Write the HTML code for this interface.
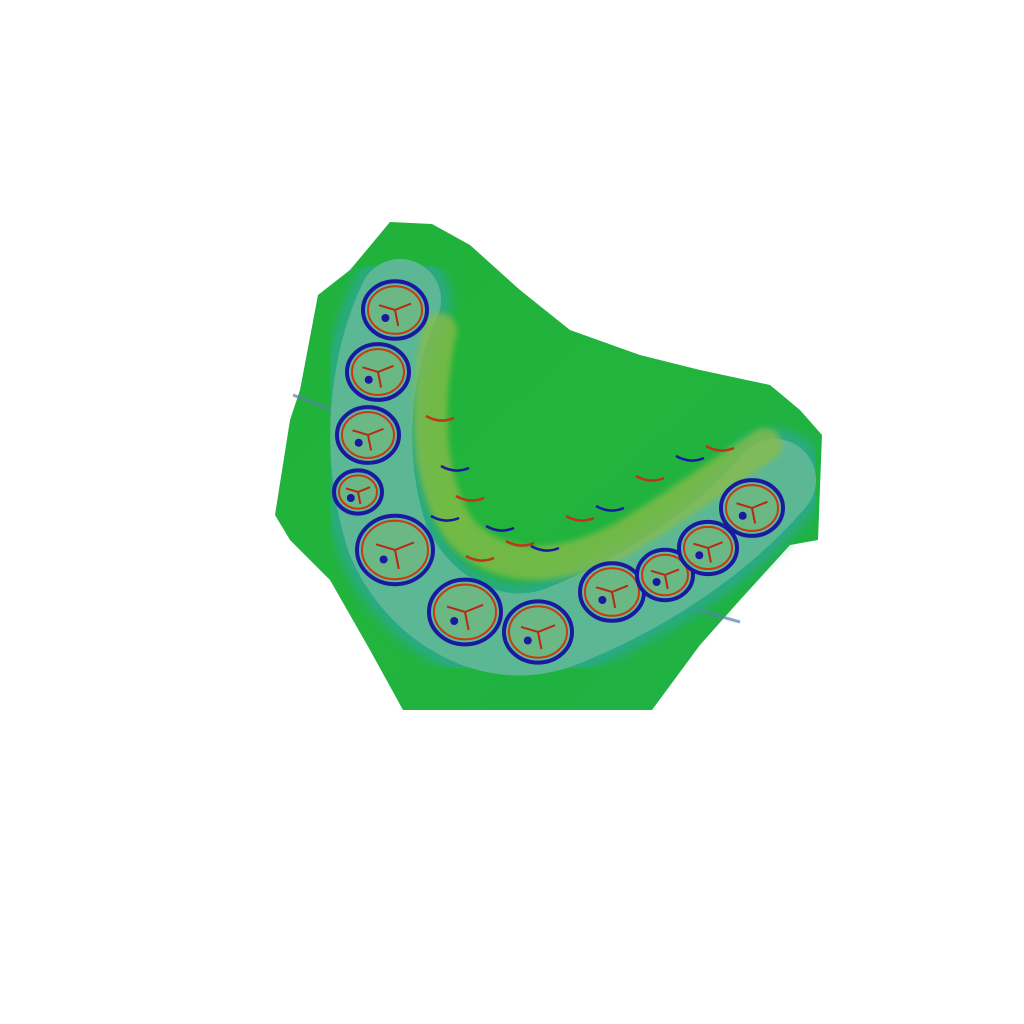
<!DOCTYPE html>
<html>
<head>
<meta charset="utf-8">
<style>
  html,body{margin:0;padding:0;background:#fff;}
  svg{display:block;}
</style>
</head>
<body>
<svg id="scene" width="1024" height="1024" viewBox="0 0 1024 1024" xmlns="http://www.w3.org/2000/svg">
  <defs>
    <linearGradient id="baseGrad" x1="0" y1="0" x2="1" y2="1">
      <stop offset="0" stop-color="#1fb23a"/>
      <stop offset="0.5" stop-color="#22b43c"/>
      <stop offset="1" stop-color="#1eb046"/>
    </linearGradient>
    <filter id="blur2"><feGaussianBlur stdDeviation="3"/></filter>
    <filter id="blur6"><feGaussianBlur stdDeviation="6"/></filter>
  </defs>
  <polygon fill="url(#baseGrad)"
    points="390,222 432,224 470,245 520,290 570,330 640,355 700,370 770,385 800,410 822,435 818,540 790,545 740,600 700,645 652,710 403,710 370,650 330,580 290,540 275,515 290,420 300,390 318,295 350,270"/>
  <line x1="293" y1="395" x2="345" y2="415" stroke="#5a7fb0" stroke-width="3" opacity="0.7"/>
  <line x1="680" y1="605" x2="740" y2="622" stroke="#5a7fb0" stroke-width="3" opacity="0.7"/>
  <path d="M400,300 C372,360 358,450 388,540 C418,610 495,655 565,625 C640,595 720,545 775,480"
    fill="none" stroke="#2aa98a" stroke-width="100" stroke-linecap="round" filter="url(#blur6)"/>
  <path d="M400,300 C372,360 358,450 388,540 C418,610 495,655 565,625 C640,595 720,545 775,480"
    fill="none" stroke="#5cb894" stroke-width="82" stroke-linecap="round"/>
  <path d="M440,330 C425,400 425,480 460,530 C500,575 560,570 620,540 C680,505 725,470 765,445"
    fill="none" stroke="#8cbc4a" stroke-width="34" stroke-linecap="round" filter="url(#blur2)" opacity="0.75"/>
  <g id="details"></g>
  <g id="teeth"></g>
</svg>
<script>
const toothX = [395, 378, 368, 358, 395, 465, 538, 612, 665, 708, 752];
const toothY = [310, 372, 435, 492, 550, 612, 632, 592, 575, 548, 508];
const toothR = [32, 31, 31, 24, 38, 36, 34, 32, 28, 29, 31];
const ns = 'http://www.w3.org/2000/svg';
const teethG = document.getElementById('teeth');
for (let i = 0; i < toothX.length; i++) {
  const g = document.createElementNS(ns, 'g');
  
  
  const outer = document.createElementNS(ns, 'ellipse');
  outer.setAttribute('cx', toothX[i]); outer.setAttribute('cy', toothY[i]);
  outer.setAttribute('rx', toothR[i]); outer.setAttribute('ry', toothR[i] * 0.9);
  outer.setAttribute('fill', '#5fb898'); outer.setAttribute('stroke', '#1a1aa0'); outer.setAttribute('stroke-width', '4');
  
  
  g.appendChild(outer);
  const inner = document.createElementNS(ns, 'ellipse');
  inner.setAttribute('cx', toothX[i]); inner.setAttribute('cy', toothY[i]);
  inner.setAttribute('rx', toothR[i] - 5); inner.setAttribute('ry', toothR[i] * 0.9 - 5);
  inner.setAttribute('fill', '#7fb86a'); inner.setAttribute('fill-opacity', '0.4');
  inner.setAttribute('stroke', '#c83a10'); inner.setAttribute('stroke-width', '2');
  
  
  g.appendChild(inner);
  const fis = document.createElementNS(ns, 'path');
  const x = toothX[i], y = toothY[i], r = toothR[i] * 0.5;
  fis.setAttribute('d', `M${x - r},${y - r * 0.3} L${x},${y} L${x + r},${y - r * 0.4} M${x},${y} L${x + r * 0.2},${y + r}`);
  fis.setAttribute('stroke', '#b82a10'); fis.setAttribute('stroke-width', '2'); fis.setAttribute('fill', 'none');
  
  
  g.appendChild(fis);
  const blue = document.createElementNS(ns, 'circle');
  blue.setAttribute('cx', x - r * 0.6); blue.setAttribute('cy', y + r * 0.5); blue.setAttribute('r', 4);
  blue.setAttribute('fill', '#1a1aa0');
  
  
  g.appendChild(blue);
  teethG.appendChild(g);
}
const detailX = [440, 455, 470, 500, 520, 545, 580, 610, 650, 690, 720, 445, 480];
const detailY = [420, 470, 500, 530, 545, 550, 520, 510, 480, 460, 450, 520, 560];
const detG = document.getElementById('details');
for (let i = 0; i < detailX.length; i++) {
  const p = document.createElementNS(ns, 'path');
  p.setAttribute('d', `M${detailX[i] - 14},${detailY[i] - 4} q14,8 28,2`);
  p.setAttribute('stroke', i % 2 ? '#1a1aa0' : '#c0341a');
  p.setAttribute('stroke-width', '2.5'); p.setAttribute('fill', 'none');
  
  
  detG.appendChild(p);
}
</script>
</body>
</html>
